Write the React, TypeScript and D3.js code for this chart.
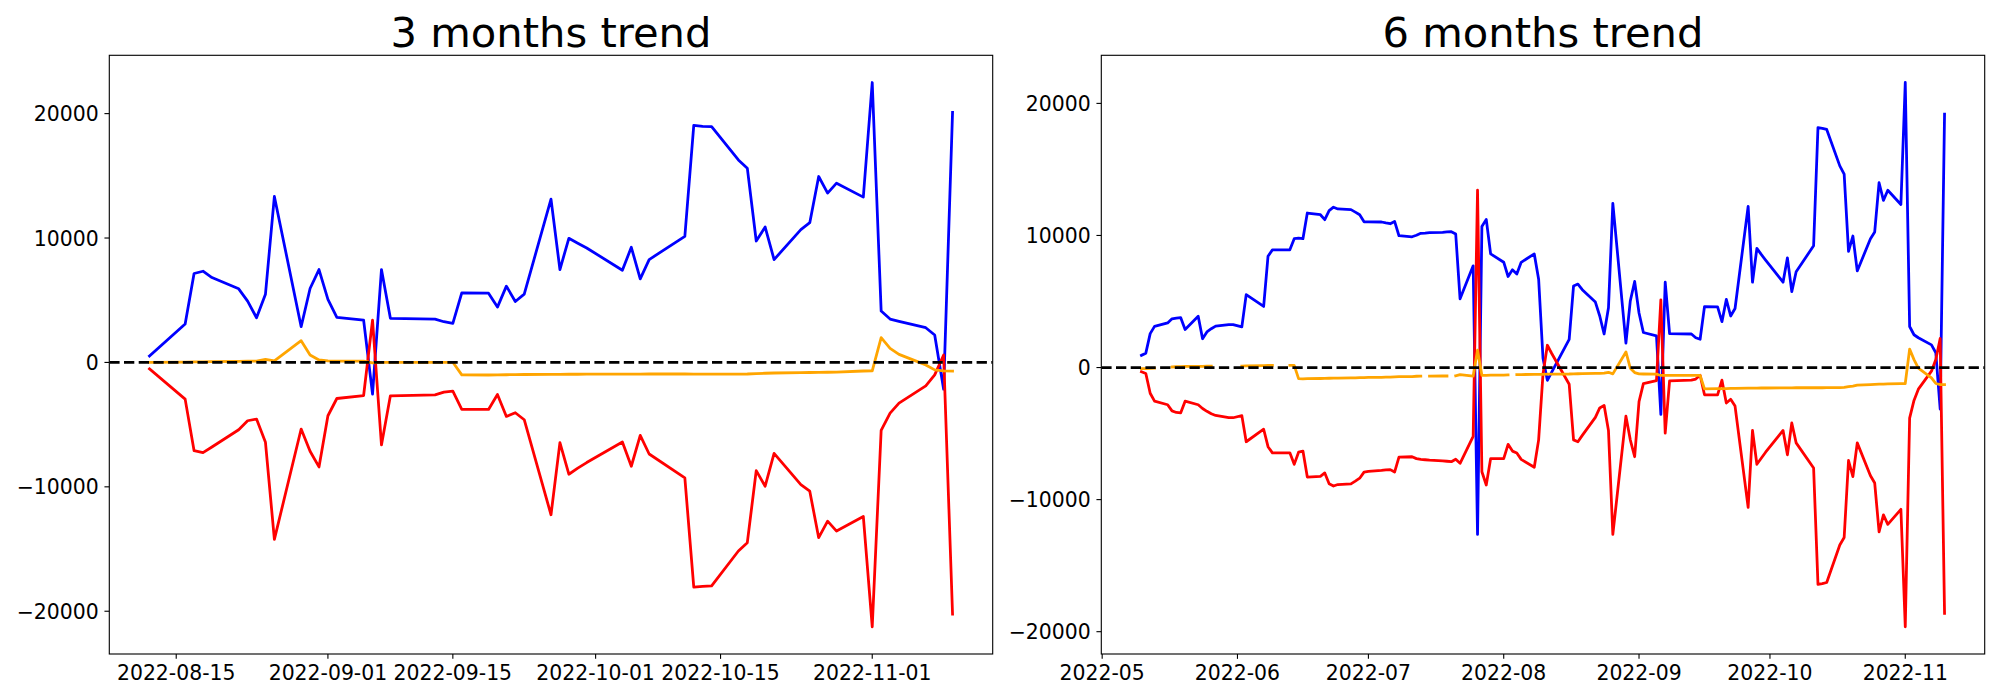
import React from "react";
import * as d3 from "d3";

// ---------- 3 months data ----------
const dates3m = [
  "2022-08-12","2022-08-16","2022-08-17","2022-08-18","2022-08-19",
  "2022-08-22","2022-08-23","2022-08-24","2022-08-25","2022-08-26",
  "2022-08-29","2022-08-30","2022-08-31","2022-09-01","2022-09-02",
  "2022-09-05","2022-09-06","2022-09-07","2022-09-08",
  "2022-09-13","2022-09-14","2022-09-15","2022-09-16",
  "2022-09-19","2022-09-20","2022-09-21","2022-09-22","2022-09-23",
  "2022-09-26","2022-09-27","2022-09-28","2022-09-29","2022-09-30",
  "2022-10-04","2022-10-05","2022-10-06","2022-10-07",
  "2022-10-11","2022-10-12","2022-10-13","2022-10-14",
  "2022-10-17","2022-10-18","2022-10-19","2022-10-20","2022-10-21",
  "2022-10-24","2022-10-25","2022-10-26","2022-10-27","2022-10-28",
  "2022-10-31","2022-11-01","2022-11-02","2022-11-03","2022-11-04",
  "2022-11-07","2022-11-08","2022-11-09","2022-11-10",
];
const blue3m = [
  520, 3085, 7146, 7330, 6823,
  5917, 4928, 3592, 5489, 13341,
  2871, 5943, 7465, 5062, 3620,
  3405, -2548, 7465, 3541,
  3485, 3272, 3139, 5595,
  5568, 4448, 6130, 4901, 5489,
  13127, 7465, 9976, 9580, 9200,
  7412, 9255, 6716, 8269,
  10136, 19056, 18980, 18950,
  16280, 15612, 9762, 10884, 8269,
  10670, 11231, 14944, 13608, 14410,
  13288, 22500, 4127, 3485, 3300,
  2790, 2204, -2150, 20100,
];
const red3m = [
  -521, -2950, -7092, -7252, -6797,
  -5409, -4688, -4553, -6423, -14223,
  -5355, -7145, -8400, -4287, -2900,
  -2660, 3405, -6636, -2684,
  -2604, -2390, -2310, -3780,
  -3780, -2578, -4340, -4047, -4607,
  -12245, -6450, -8988, -8500, -8050,
  -6397, -8346, -5863, -7360,
  -9280, -18070, -18000, -17960,
  -15160, -14490, -8694, -9950, -7306,
  -9816, -10350, -14090, -12756, -13557,
  -12380, -21250, -5463, -4073, -3272,
  -1883, -1000, 600, -20230,
];
const orange3m = [
  0, 30, 40, 50, 60,
  80, 100, 110, 250, 130,
  1750, 600, 200, 120, 110,
  100, -30, 10, 10,
  10, 10, 10, -1000,
  -1010, -1000, -990, -980, -970,
  -960, -960, -950, -950, -945,
  -940, -935, -935, -930,
  -930, -935, -935, -935,
  -935, -930, -900, -870, -850,
  -820, -810, -800, -790, -780,
  -690, -680, 1990, 1136, 650,
  -200, -600, -680, -700,
];
const xTicks3m = ["2022-08-15", "2022-09-01", "2022-09-15", "2022-10-01", "2022-10-15", "2022-11-01"];

// ---------- 6 months data ----------
const datesBefore3m = [
  "2022-05-10","2022-05-11","2022-05-12","2022-05-13","2022-05-16","2022-05-17","2022-05-18","2022-05-19","2022-05-20",
  "2022-05-23","2022-05-24","2022-05-25","2022-05-26","2022-05-27","2022-05-30","2022-05-31",
  "2022-06-02","2022-06-03","2022-06-07","2022-06-08","2022-06-09","2022-06-10","2022-06-13","2022-06-14","2022-06-15",
  "2022-06-16","2022-06-17","2022-06-20","2022-06-21","2022-06-22","2022-06-23","2022-06-24","2022-06-27","2022-06-28",
  "2022-06-29","2022-06-30",
  "2022-07-01","2022-07-04","2022-07-05","2022-07-06","2022-07-07","2022-07-08","2022-07-11","2022-07-12","2022-07-13",
  "2022-07-14","2022-07-15","2022-07-18","2022-07-19","2022-07-20","2022-07-21","2022-07-22","2022-07-25","2022-07-26",
  "2022-07-27","2022-07-28","2022-07-29",
  "2022-08-01","2022-08-02","2022-08-03","2022-08-04","2022-08-05","2022-08-08","2022-08-09","2022-08-10","2022-08-11",
];
const dates6m = [...datesBefore3m, ...dates3m];
const blue6m = [
  925, 1090, 2568, 3115, 3380, 3690, 3740, 3775, 2875, 3876, 2180, 2700, 2940, 3140, 3250, 3250,
  3079, 5520, 4624, 8430, 8910, 8910, 8910, 9755, 9800, 9755, 11700, 11570, 11197, 11875, 12142, 12010, 11955, 11770, 11568, 11035,
  11035, 11020, 10950, 10888, 11060, 9980, 9900, 10013, 10165, 10184, 10213, 10241, 10270, 10285, 10110, 5200, 7700, -12638, 10676, 11220, 8605,
  7975, 6893, 7399, 7086, 7967, 8605, 6690, 700, -970, -350, 2140, 6177, 6319, 5893, 4955, 3903, 2539, 4529, 12429, 1857, 5040, 6518,
  4131, 2653, 2397, -3543, 6461, 2568, 2539, 2255, 2141, 4614, 4586, 3477, 5154, 3903, 4472, 12202, 6461, 9019, 8564, 8138,
  6461, 8308, 5751, 7257, 9218, 18170, 18113, 18028, 15271, 14646, 8792, 9957, 7314, 9729, 10269, 13992, 12657, 13424, 12344,
  21581, 3108, 2482, 2255, 1715, 1118, -3145, 19193,
];
const red6m = [
  -315, -450, -1945, -2548, -2816, -3283, -3400, -3430, -2548, -2816, -3100, -3314, -3500, -3630, -3800, -3800,
  -3640, -5619, -4672, -5993, -6460, -6460, -6460, -7330, -6408, -6327, -8290, -8235, -7980, -8795, -8972, -8860, -8811, -8602, -8380, -7915,
  -7863, -7790, -7740, -7728, -7915, -6790, -6755, -6896, -6953, -6981, -7010, -7067, -7095, -7128, -6942, -7248, -5217, 13424, -7890, -8890, -6896,
  -6896, -5816, -6328, -6470, -6953, -7550, -5476, -480, 1687, 1062, -1269, -5475, -5617, -5134, -3770, -3060, -2862, -4765, -12637, -3685, -5476, -6754,
  -2577, -1212, -985, 5125, -4964, -1013, -957, -871, -587, -2065, -2065, -957, -2690, -2406, -2918, -10591, -4765, -7323, -6868, -6413,
  -4765, -6612, -4197, -5703, -7607, -16417, -16360, -16275, -13433, -12865, -7039, -8261, -5703, -8176, -8744, -12439, -11160, -11870, -10733,
  -19629, -3827, -2491, -1639, -275, 604, 2198, -18605,
];
const orange6m: (number | null)[] = [
  -80, -80, -60, -50, null, 40, 60, 70, 80, 90, 90, 100, 100, null, null, null,
  110, 130, 150, 160, 160, null, 160, 160, -840, -850, -840, -830, -820, -810, -800, -800, -790, -780, -770, -760,
  -750, -740, -730, -720, -700, -690, -680, -660, -650, null, -650, -640, -640, null, -620, -530, -650, 1320, -600, -590, -580,
  -570, -560, null, -540, -530, -520, -510, -510, -505, -500, -490, -480, -470, -460, -450, -440, -420, -360, -480, 1180, -50, -380,
  -480, -490, -500, -600, -600, -600, -600, -600, -600, -1620, -1600, -1600, -1590, -1580, -1570, -1560, -1560, -1555, -1550, -1550,
  -1545, -1540, -1535, -1530, -1530, -1530, -1530, -1525, -1520, -1510, -1450, -1400, -1330, -1290, -1270, -1260, -1250, -1240, -1220,
  -1212, 1400, 600, -50, -780, -1210, -1300, -1300,
];
const xTicks6m = ["2022-05-01", "2022-06-01", "2022-07-01", "2022-08-01", "2022-09-01", "2022-10-01", "2022-11-01"];

const yTicks = [-20000, -10000, 0, 10000, 20000];
const seriesColors = ["blue", "red", "orange"];

const FONT = "'DejaVu Sans', sans-serif";
const parse = d3.timeParse("%Y-%m-%d");

type PanelProps = {
  title: string;
  dates: string[];
  series: (number | null)[][];
  xTicks: string[];
  xFmt: string;
  x0: number;
  x1: number;
};

function Panel({ title, dates, series, xTicks, xFmt, x0, x1 }: PanelProps) {
  const top = 55.3;
  const bottom = 654;
  const ds = dates.map((d) => parse(d) as Date);
  const [dmin, dmax] = d3.extent(ds) as [Date, Date];
  const span = +dmax - +dmin;
  const x = d3
    .scaleTime()
    .domain([new Date(+dmin - span * 0.05), new Date(+dmax + span * 0.05)])
    .range([x0, x1]);
  const all = series.flat().filter((v) => v != null) as number[];
  const ymin = d3.min(all) as number;
  const ymax = d3.max(all) as number;
  const pad = (ymax - ymin) * 0.05;
  const y = d3.scaleLinear().domain([ymin - pad, ymax + pad]).range([bottom, top]);
  const line = d3
    .line<number | null>()
    .defined((v) => v != null)
    .x((_, i) => x(ds[i]))
    .y((v) => y(v as number));
  const fmt = d3.timeFormat(xFmt);
  const tickLen = 4.86;
  const fs = 20.4;
  const clipId = "clip-" + title.replace(/\s/g, "");
  return (
    <g>
      <defs>
        <clipPath id={clipId}>
          <rect x={x0} y={top} width={x1 - x0} height={bottom - top} />
        </clipPath>
      </defs>
      <g clipPath={`url(#${clipId})`}>
        {series.map((s, k) => (
          <path
            key={k}
            d={line(s) || ""}
            fill="none"
            stroke={seriesColors[k]}
            strokeWidth={2.78}
            strokeLinejoin="round"
            strokeLinecap="square"
          />
        ))}
        <line
          x1={x0}
          x2={x1}
          y1={y(0)}
          y2={y(0)}
          stroke="black"
          strokeWidth={2.78}
          strokeDasharray="10.3 4.4"
        />
      </g>
      <rect x={x0} y={top} width={x1 - x0} height={bottom - top} fill="none" stroke="black" strokeWidth={1.11} />
      {yTicks.map((t) => (
        <g key={t}>
          <line x1={x0 - tickLen} x2={x0} y1={y(t)} y2={y(t)} stroke="black" strokeWidth={1.11} />
          <text
            x={x0 - 10.6}
            y={y(t) + 7.5}
            textAnchor="end"
            fontFamily={FONT}
            fontSize={fs}
            fill="black"
          >
            {t < 0 ? "\u2212" + Math.abs(t) : String(t)}
          </text>
        </g>
      ))}
      {xTicks.map((t) => {
        const d = parse(t) as Date;
        const xx = x(d);
        return (
          <g key={t}>
            <line x1={xx} x2={xx} y1={bottom} y2={bottom + tickLen} stroke="black" strokeWidth={1.11} />
            <text x={xx} y={680} textAnchor="middle" fontFamily={FONT} fontSize={fs} fill="black">
              {fmt(d)}
            </text>
          </g>
        );
      })}
      <text
        x={(x0 + x1) / 2}
        y={47}
        textAnchor="middle"
        fontFamily={FONT}
        fontSize={41.67}
        fill="black"
      >
        {title}
      </text>
    </g>
  );
}

export default function App() {
  return (
    <svg
      width={2000}
      height={700}
      style={{ position: "absolute", left: 0, top: 0, background: "white" }}
    >
      <rect x={0} y={0} width={2000} height={700} fill="white" />
      <Panel
        title="3 months trend"
        dates={dates3m}
        series={[blue3m, red3m, orange3m]}
        xTicks={xTicks3m}
        xFmt="%Y-%m-%d"
        x0={109.3}
        x1={992.7}
      />
      <Panel
        title="6 months trend"
        dates={dates6m}
        series={[blue6m, red6m, orange6m]}
        xTicks={xTicks6m}
        xFmt="%Y-%m"
        x0={1101.3}
        x1={1984.7}
      />
    </svg>
  );
}
